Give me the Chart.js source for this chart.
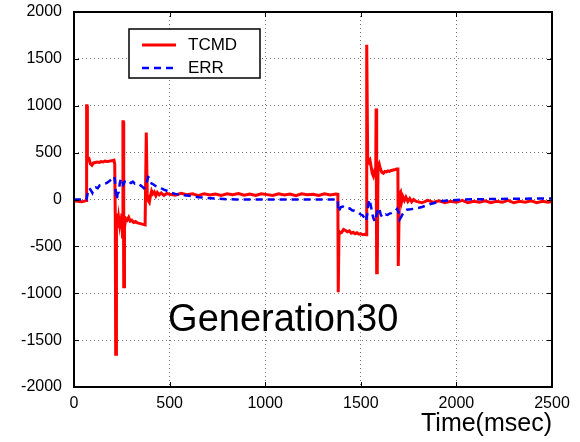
<!DOCTYPE html>
<html>
<head>
<meta charset="utf-8">
<script src="https://cdn.jsdelivr.net/npm/chart.js@4/dist/chart.umd.min.js"></script>
<style>
  html, body { margin: 0; padding: 0; background: #fff; }
  #wrap { width: 580px; height: 442px; }
</style>
</head>
<body>
<div id="wrap"><canvas id="genChart" width="580" height="442"></canvas></div>
<script>
// TCMD (red solid) samples
const tcmdTime = [
  0, 20, 40, 55, 64, 66, 68, 70, 78, 86, 94, 102, 112, 122, 132, 142, 152, 162, 172, 182, 192, 202, 209,
  213, 216, 218, 220, 222, 226, 230, 234, 238, 242, 246, 250, 254, 256, 258, 260, 262, 264, 270, 278, 286,
  294, 302, 312, 322, 332, 342, 352, 362, 372, 376, 378, 380, 383, 388, 394, 400, 406, 412, 420, 428, 436,
  446, 456, 470, 486, 500, 530, 560, 590, 620, 650, 680, 710, 740, 770, 800, 830, 860, 890, 920, 950, 980,
  1010, 1040, 1070, 1100, 1130, 1160, 1190, 1220, 1250, 1280, 1310, 1340, 1370, 1380, 1382, 1384, 1386,
  1392, 1400, 1410, 1420, 1430, 1440, 1450, 1460, 1470, 1480, 1490, 1500, 1510, 1520, 1528, 1530, 1532,
  1536, 1542, 1548, 1554, 1560, 1566, 1572, 1578, 1580, 1582, 1584, 1586, 1590, 1596, 1602, 1610, 1618,
  1626, 1634, 1642, 1650, 1660, 1670, 1680, 1688, 1694, 1696, 1698, 1702, 1708, 1714, 1720, 1728, 1736,
  1746, 1756, 1766, 1776, 1790, 1820, 1850, 1880, 1910, 1940, 1970, 2000, 2030, 2060, 2090, 2120, 2150,
  2180, 2210, 2240, 2270, 2300, 2330, 2360, 2390, 2420, 2450, 2480, 2500
];
const tcmdValue = [
  -15, -20, -25, -18, -10, 1000, 1000, 450, 440, 380, 365, 390, 395, 400, 395, 405, 400, 410, 405, 408, 412, 415, 420,
  380, -200, -1650, -1650, -250, -150, -300, -200, -260, -180, -300, -150, -400, 830, 830, -930, -930, -300, -200, -220, -190,
  -230, -220, -245, -235, -250, -255, -260, -265, -270, -270, 715, 715, 60, -10, -30, 40, 90, 60, 80, 40, 75,
  50, 70, 45, 65, 55, 45, 65, 50, 60, 40, 62, 48, 58, 44, 60, 50, 64, 46, 58, 42, 60,
  52, 44, 62, 48, 58, 40, 60, 50, 56, 44, 62, 48, 58, 55, -990, -990, -340,
  -360, -350, -320, -330, -345, -335, -360, -350, -365, -355, -370, -365, -375, -370, -375, 1650, 1650,
  450, 400, 420, 350, 280, 250, 300, 280, 970, 970, -780, -780, 350, 380, 330, 290, 280,
  300, 295, 305, 300, 310, 315, 320, 325, 325, -710, -710, 60, 80, -20, 30, -10, 25,
  -20, 10, -25, 0, -20, -35, -10, -30, -15, -35, -20, -30, -10, -35, -20, -30, -15,
  -35, -20, -30, -10, -35, -20, -30, -15, -35, -20, -28, -22
];

// ERR (blue dashed) samples
const errTime = [
  0, 64, 66, 72, 80, 88, 96, 104, 114, 124, 134, 144, 154, 164, 174, 184, 194, 204, 210, 214, 220, 224, 228,
  234, 240, 246, 252, 258, 266, 274, 282, 290, 298, 308, 318, 328, 338, 348, 358, 366, 372, 380, 388, 392,
  398, 406, 416, 426, 440, 456, 470, 490, 510, 530, 560, 600, 650, 700, 750, 800, 850, 1380, 1382, 1388,
  1396, 1406, 1418, 1430, 1442, 1454, 1466, 1478, 1490, 1500, 1510, 1520, 1527, 1534, 1540, 1546, 1552,
  1560, 1566, 1574, 1580, 1588, 1596, 1604, 1612, 1620, 1630, 1640, 1650, 1660, 1670, 1680, 1690, 1698,
  1704, 1710, 1720, 1730, 1740, 1760, 1780, 1800, 1820, 1840, 1860, 1880, 1900, 1930, 1960, 2000, 2050,
  2100, 2200, 2300, 2400, 2500
];
const errValue = [
  0, 0, 10, 70, 120, 100, 70, 120, 130, 120, 150, 155, 165, 170, 180, 195, 210, 230, 245, 200, 30, 0, 60,
  80, 180, 225, 200, 160, 190, 180, 170, 185, 175, 190, 170, 175, 160, 150, 135, 120, 130, 180, 240, 235,
  200, 170, 160, 145, 135, 120, 105, 90, 70, 60, 50, 40, 25, 15, 8, 3, 0, 0, -130, -110,
  -80, -75, -90, -100, -95, -115, -120, -130, -145, -160, -170, -200, -230, -150, -40, 0, -60,
  -150, -200, -235, -180, -120, -90, -160, -190, -175, -160, -165, -150, -145, -135, -125, -100, -140,
  -210, -190, -150, -120, -110, -105, -98, -90, -80, -65, -50, -40, -30, -15, -10, -5, 0,
  3, 5, 8, 10, 12
];

const xTicks = [0, 500, 1000, 1500, 2000, 2500];
const yTicks = [-2000, -1500, -1000, -500, 0, 500, 1000, 1500, 2000];

const FONT = "'Liberation Sans', Arial, sans-serif";

// frame, inward ticks, legend and the generation label
const decorations = {
  id: "decorations",
  afterDraw(chart) {
    const { ctx, chartArea: a, scales: { x, y } } = chart;
    ctx.save();

    // inward tick marks on all four sides
    ctx.strokeStyle = "#000";
    ctx.lineWidth = 1;
    ctx.beginPath();
    xTicks.forEach(v => {
      const px = Math.round(x.getPixelForValue(v)) + 0.5;
      ctx.moveTo(px, a.bottom); ctx.lineTo(px, a.bottom - 5);
      ctx.moveTo(px, a.top); ctx.lineTo(px, a.top + 5);
    });
    yTicks.forEach(v => {
      const py = Math.round(y.getPixelForValue(v)) + 0.5;
      ctx.moveTo(a.left, py); ctx.lineTo(a.left + 5, py);
      ctx.moveTo(a.right, py); ctx.lineTo(a.right - 5, py);
    });
    ctx.stroke();

    // plot frame
    ctx.lineWidth = 2;
    ctx.strokeRect(a.left, a.top, a.right - a.left, a.bottom - a.top);

    // legend box
    ctx.fillStyle = "#fff";
    ctx.fillRect(129, 29, 131, 49);
    ctx.lineWidth = 1.5;
    ctx.strokeRect(129, 29, 131, 49);
    ctx.font = "17px " + FONT;
    ctx.textBaseline = "middle";
    ctx.textAlign = "left";
    chart.data.datasets.forEach((ds, i) => {
      const ly = 45 + i * 23;
      ctx.strokeStyle = ds.borderColor;
      ctx.lineWidth = ds.borderWidth;
      ctx.setLineDash(ds.borderDash || []);
      ctx.beginPath();
      ctx.moveTo(142, ly); ctx.lineTo(176, ly);
      ctx.stroke();
      ctx.setLineDash([]);
      ctx.fillStyle = "#000";
      ctx.fillText(ds.label, 188, ly);
    });

    // annotation text
    ctx.font = "38px " + FONT;
    ctx.textBaseline = "alphabetic";
    ctx.fillStyle = "#000";
    ctx.fillText("Generation30", x.getPixelForValue(492), y.getPixelForValue(-1400));
    ctx.restore();
  }
};

new Chart(document.getElementById("genChart"), {
  type: "line",
  data: {
    datasets: [
      {
        label: "TCMD",
        data: tcmdTime.map((t, i) => ({ x: t, y: tcmdValue[i] })),
        borderColor: "#ff0000",
        borderWidth: 3,
        pointRadius: 0,
        tension: 0,
        order: 1
      },
      {
        label: "ERR",
        data: errTime.map((t, i) => ({ x: t, y: errValue[i] })),
        borderColor: "#0000ff",
        borderWidth: 2.5,
        borderDash: [7, 5],
        pointRadius: 0,
        tension: 0,
        order: 0
      }
    ]
  },
  options: {
    responsive: false,
    animation: false,
    devicePixelRatio: 1,
    layout: { padding: { top: 12, right: 28, left: 0, bottom: 0 } },
    plugins: {
      legend: { display: false },
      tooltip: { enabled: false }
    },
    scales: {
      x: {
        type: "linear",
        min: 0,
        max: 2500,
        afterFit: s => { s.height = 55; s.paddingLeft = 0; s.paddingRight = 0; },
        afterBuildTicks: s => { s.ticks = xTicks.map(v => ({ value: v })); },
        ticks: { color: "#000", padding: 7, font: { size: 16, family: FONT }, maxRotation: 0, callback: v => String(v) },
        grid: { color: "rgba(0,0,0,0.55)", lineWidth: 1, drawTicks: false },
        border: { display: false, dash: [1, 3] },
        title: {
          display: true,
          text: "Time(msec)",
          align: "end",
          color: "#000",
          font: { size: 25, family: FONT },
          padding: { top: 0, bottom: 3 }
        }
      },
      y: {
        type: "linear",
        min: -2000,
        max: 2000,
        afterFit: s => { s.width = 74; s.paddingTop = 0; s.paddingBottom = 0; },
        afterBuildTicks: s => { s.ticks = yTicks.map(v => ({ value: v })); },
        ticks: { color: "#000", padding: 12, font: { size: 16, family: FONT }, callback: v => String(v) },
        grid: { color: "rgba(0,0,0,0.55)", lineWidth: 1, drawTicks: false },
        border: { display: false, dash: [1, 3] }
      }
    }
  },
  plugins: [decorations]
});
</script>
</body>
</html>
